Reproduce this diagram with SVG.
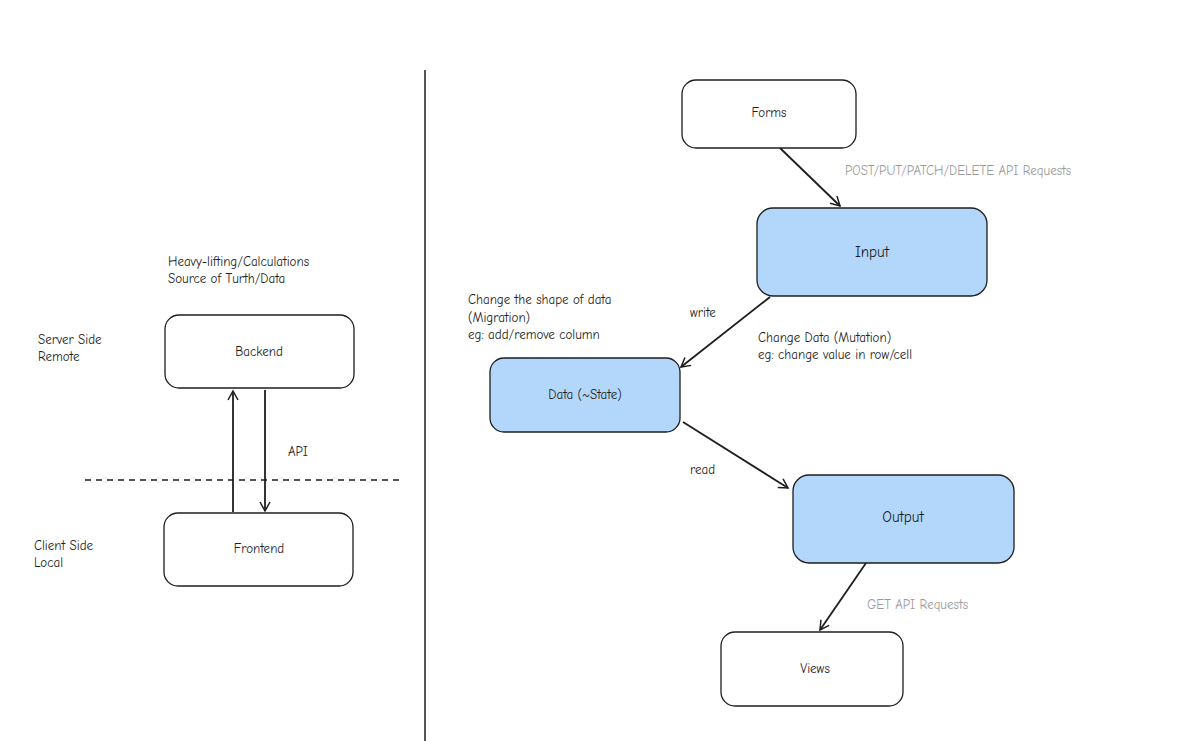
<svg xmlns="http://www.w3.org/2000/svg" width="1200" height="741" viewBox="0 0 1200 741">
<defs>
<style>
text{font-family:"Comic Neue","DejaVu Sans",sans-serif;font-size:13px;fill:#1e1e1e}
.c{text-anchor:middle}
.g{fill:#9a9a9a}
.b{fill:#fff;stroke:#1e1e1e;stroke-width:1.3}
.bl{fill:#b3d6fb;stroke:#1e1e1e;stroke-width:1.3}
.l{stroke:#1e1e1e;stroke-width:1.8;fill:none}
</style>
<marker id="a" markerWidth="12" markerHeight="12" refX="10" refY="6" orient="auto" markerUnits="userSpaceOnUse"><path d="M1,1 L10,6 L1,11" fill="none" stroke="#1e1e1e" stroke-width="1.5"/></marker>
</defs>
<rect width="1200" height="741" fill="#fff"/>
<line x1="425" y1="70" x2="425" y2="741" stroke="#1e1e1e" stroke-width="1.5"/>
<line x1="85" y1="480" x2="402" y2="480" stroke="#1e1e1e" stroke-width="1.3" stroke-dasharray="6,5"/>
<g id="connectors">
<line class="l" x1="233" y1="512" x2="233" y2="391" marker-end="url(#a)"/>
<line class="l" x1="265" y1="390" x2="265" y2="511" marker-end="url(#a)"/>
<line class="l" x1="780" y1="148" x2="840" y2="206" marker-end="url(#a)"/>
<line class="l" x1="770" y1="297" x2="681" y2="367" marker-end="url(#a)"/>
<line class="l" x1="683" y1="422" x2="788" y2="488" marker-end="url(#a)"/>
<line class="l" x1="866" y1="563" x2="820" y2="630" marker-end="url(#a)"/>
</g>
<g id="backend"><rect class="b" x="165" y="315" width="189" height="73" rx="14"/><text class="c" x="259" y="356">Backend</text></g>
<g id="frontend"><rect class="b" x="164" y="513" width="189" height="73" rx="14"/><text class="c" x="259" y="553">Frontend</text></g>
<g id="forms"><rect class="b" x="682" y="80" width="174" height="68" rx="14"/><text class="c" x="769" y="117">Forms</text></g>
<g id="input"><rect class="bl" x="757" y="208" width="230" height="88" rx="16"/><text class="c" x="872" y="257" style="font-size:15px">Input</text></g>
<g id="data"><rect class="bl" x="490" y="358" width="190" height="74" rx="14"/><text class="c" x="585" y="399">Data (~State)</text></g>
<g id="output"><rect class="bl" x="793" y="475" width="221" height="88" rx="16"/><text class="c" x="903" y="522" style="font-size:15px">Output</text></g>
<g id="views"><rect class="b" x="721" y="632" width="182" height="74" rx="14"/><text class="c" x="815" y="673">Views</text></g>
<text x="288" y="456">API</text>
<text x="38" y="344">Server Side</text><text x="38" y="361">Remote</text>
<text x="34" y="550">Client Side</text><text x="34" y="567">Local</text>
<text x="168" y="266">Heavy-lifting/Calculations</text><text x="168" y="283">Source of Turth/Data</text>
<text class="g" x="845" y="175">POST/PUT/PATCH/DELETE API Requests</text>
<text x="690" y="317">write</text>
<text x="468" y="304">Change the shape of data</text><text x="468" y="322">(Migration)</text><text x="468" y="339">eg: add/remove column</text>
<text x="758" y="342">Change Data (Mutation)</text><text x="758" y="359">eg: change value in row/cell</text>
<text x="690" y="474">read</text>
<text class="g" x="867" y="609">GET API Requests</text>
</svg>
